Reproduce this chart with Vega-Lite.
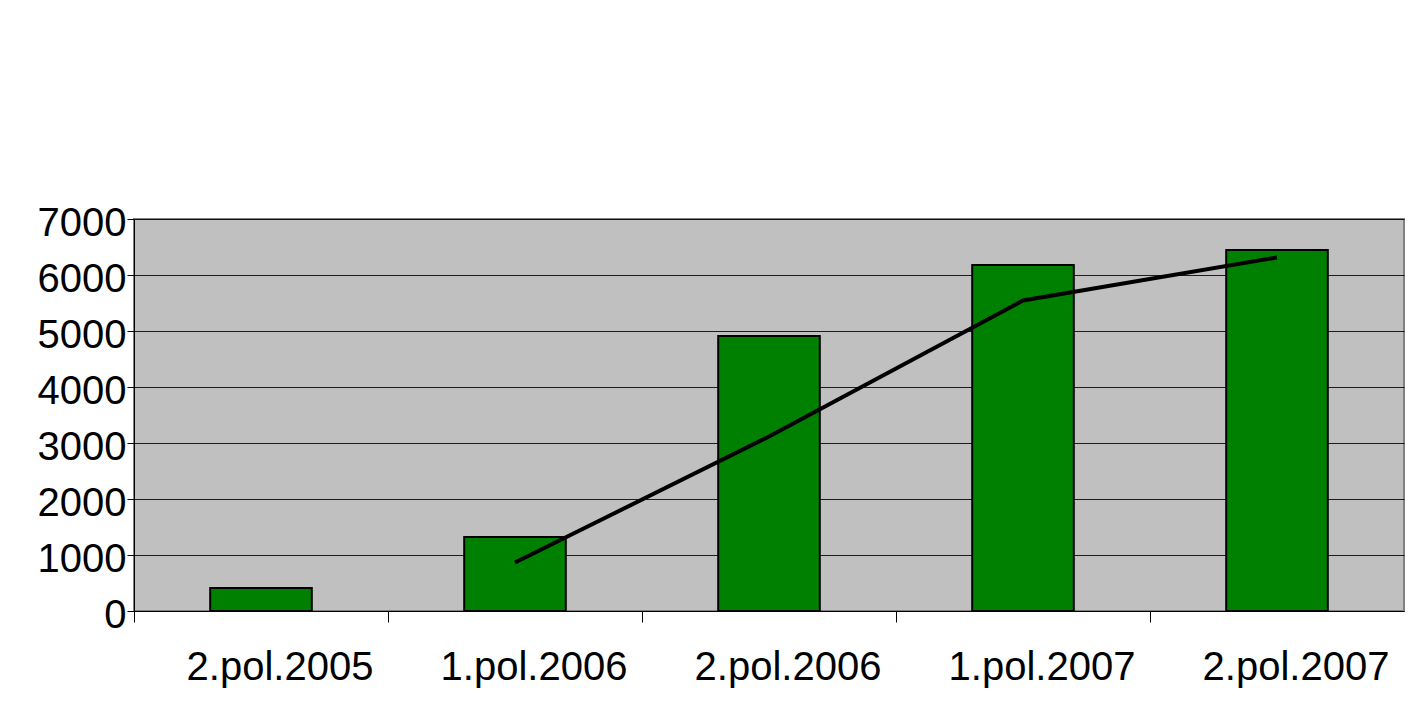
{
  "$schema": "https://vega.github.io/schema/vega-lite/v6.json",
  "width": 1270,
  "height": 392,
  "autosize": {"type": "none"},
  "padding": {"left": 134, "top": 219, "right": 7, "bottom": 101},
  "background": "#ffffff",
  "config": {
    "font": "Liberation Sans",
    "view": {"fill": "#C0C0C0", "stroke": "#808080", "strokeWidth": 2},
    "axis": {"labelFont": "Liberation Sans", "labelFontSize": 40, "labelColor": "#000000", "labelLimit": 0, "title": null}
  },
  "datasets": {
    "bars": [
      {"period": "2.pol.2005", "value": 410},
      {"period": "1.pol.2006", "value": 1320},
      {"period": "2.pol.2006", "value": 4910},
      {"period": "1.pol.2007", "value": 6180},
      {"period": "2.pol.2007", "value": 6446}
    ],
    "trend": [
      {"period": "1.pol.2006", "avg": 865},
      {"period": "2.pol.2006", "avg": 3115},
      {"period": "1.pol.2007", "avg": 5545},
      {"period": "2.pol.2007", "avg": 6313}
    ]
  },
  "layer": [
    {
      "data": {"name": "bars"},
      "mark": {"type": "bar", "fill": "#008000", "stroke": "#000000", "strokeWidth": 2, "width": {"band": 0.4}},
      "encoding": {
        "x": {
          "field": "period", "type": "nominal", "sort": null,
          "scale": {"domain": ["2.pol.2005", "1.pol.2006", "2.pol.2006", "1.pol.2007", "2.pol.2007"], "paddingInner": 0, "paddingOuter": 0},
          "axis": {"orient": "bottom", "labelAngle": 0, "ticks": false, "tickSize": 0, "labelPadding": 36, "labelOffset": 19, "domain": true, "domainColor": "#000000", "domainWidth": 1, "grid": false}
        },
        "y": {
          "field": "value", "type": "quantitative",
          "scale": {"domain": [0, 7000], "nice": false},
          "axis": {"orient": "left", "format": "d", "values": [0, 1000, 2000, 3000, 4000, 5000, 6000, 7000], "grid": true, "gridColor": "#000000", "gridWidth": 1, "gridOpacity": 0.85, "tickColor": "#000000", "tickSize": 7, "labelPadding": 1, "labelOffset": 4, "domainColor": "#000000", "domainWidth": 1}
        }
      }
    },
    {
      "data": {"name": "trend"},
      "mark": {"type": "line", "color": "#000000", "strokeWidth": 4},
      "encoding": {
        "x": {
          "field": "period", "type": "nominal", "sort": null,
          "axis": {"orient": "bottom", "bandPosition": 0, "labels": false, "ticks": true, "tickSize": 11, "tickColor": "#000000", "domain": false, "grid": false}
        },
        "y": {"field": "avg", "type": "quantitative", "axis": null}
      }
    }
  ],
  "resolve": {"axis": {"x": "independent", "y": "independent"}}
}
